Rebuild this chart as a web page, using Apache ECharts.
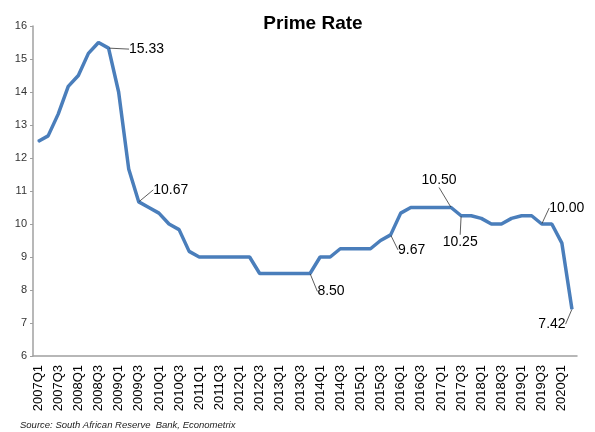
<!DOCTYPE html>
<html>
<head>
<meta charset="utf-8">
<script src="https://cdn.jsdelivr.net/npm/echarts@6/dist/echarts.min.js"></script>
<style>
html,body{margin:0;padding:0;background:#fff;}
#chart{width:595px;height:432px;}
</style>
</head>
<body>
<div id="chart"></div>
<script>
var quarters = [];
for (var yr = 2007; yr <= 2020; yr++) {
  for (var q = 1; q <= 4; q++) {
    if (yr === 2020 && q > 2) break;
    quarters.push(yr + 'Q' + q);
  }
}
var primeRate = [
  12.50, 12.67, 13.33, 14.17, 14.50, 15.17, 15.50, 15.33,
  14.00, 11.67, 10.67, 10.50, 10.33, 10.00, 9.83, 9.17,
  9.00, 9.00, 9.00, 9.00, 9.00, 9.00,
  8.50, 8.50, 8.50, 8.50, 8.50, 8.50,
  9.00, 9.00, 9.25, 9.25, 9.25, 9.25, 9.50, 9.67,
  10.33, 10.50, 10.50, 10.50, 10.50, 10.50,
  10.25, 10.25, 10.17, 10.00, 10.00, 10.17, 10.25, 10.25,
  10.00, 10.00, 9.42, 7.42
];
var yTicks = [6, 7, 8, 9, 10, 11, 12, 13, 14, 15, 16];
// labelled points: index -> label offset (dx, dy) from the point
var labelledIdx = [7, 10, 27, 35, 41, 42, 50, 53];
var labelOffsets = {
  7: [38, 1], 10: [32, -12], 27: [21, 18], 35: [21, 15],
  41: [-12, -27], 42: [-1, 26], 50: [25, -16], 53: [-20, 15]
};

var seriesData = primeRate.map(function (v, i) {
  if (labelledIdx.indexOf(i) >= 0) {
    return { value: v, label: { show: true }, labelLine: { show: true } };
  }
  return { value: v };
});

var chart = echarts.init(document.getElementById('chart'), null, { renderer: 'canvas' });
chart.setOption({
  animation: false,
  backgroundColor: '#fff',
  title: {
    text: 'Prime Rate',
    left: 308, top: 9, textAlign: 'center',
    textStyle: { fontFamily: 'Liberation Sans, Arial', fontSize: 19, fontWeight: 'bold', color: '#000' }
  },
  graphic: [{
    type: 'text', left: 20, top: 420,
    style: { text: 'Source: South African Reserve  Bank, Econometrix', font: 'italic 9.5px "Liberation Sans", Arial', fill: '#222' }
  }],
  grid: { left: 33, right: 18, top: 26, bottom: 76 },
  xAxis: {
    type: 'category',
    data: quarters,
    boundaryGap: true,
    axisLine: { lineStyle: { color: '#a0a0a0', width: 1.5 } },
    axisTick: { show: false },
    axisLabel: { interval: 1, rotate: 90, margin: 9, color: '#000', fontFamily: 'Liberation Sans, Arial', fontSize: 13 }
  },
  yAxis: {
    type: 'value',
    min: yTicks[0], max: yTicks[yTicks.length - 1], interval: 1,
    splitLine: { show: false },
    axisLine: { show: true, lineStyle: { color: '#a0a0a0', width: 1.5 } },
    axisTick: { show: true, length: 3, lineStyle: { color: '#a0a0a0' } },
    axisLabel: { color: '#333', fontFamily: 'Liberation Sans, Arial', fontSize: 11, margin: 6 }
  },
  series: [{
    type: 'line',
    data: seriesData,
    symbol: 'circle',
    symbolSize: 1,
    showSymbol: true,
    itemStyle: { color: '#4a7ebb' },
    lineStyle: { color: '#4a7ebb', width: 3.5 },
    label: {
      show: false,
      formatter: function (p) { return p.value.toFixed(2); },
      fontFamily: 'Liberation Sans, Arial', fontSize: 14, color: '#000'
    },
    labelLine: { show: false, lineStyle: { color: '#333', width: 0.8 } },
    labelLayout: function (params) {
      var off = labelOffsets[params.dataIndex];
      if (!off) return {};
      var r = params.rect;
      return {
        x: r.x + r.width / 2 + off[0],
        y: r.y + r.height / 2 + off[1],
        align: 'center',
        verticalAlign: 'middle'
      };
    }
  }]
});
</script>
</body>
</html>
